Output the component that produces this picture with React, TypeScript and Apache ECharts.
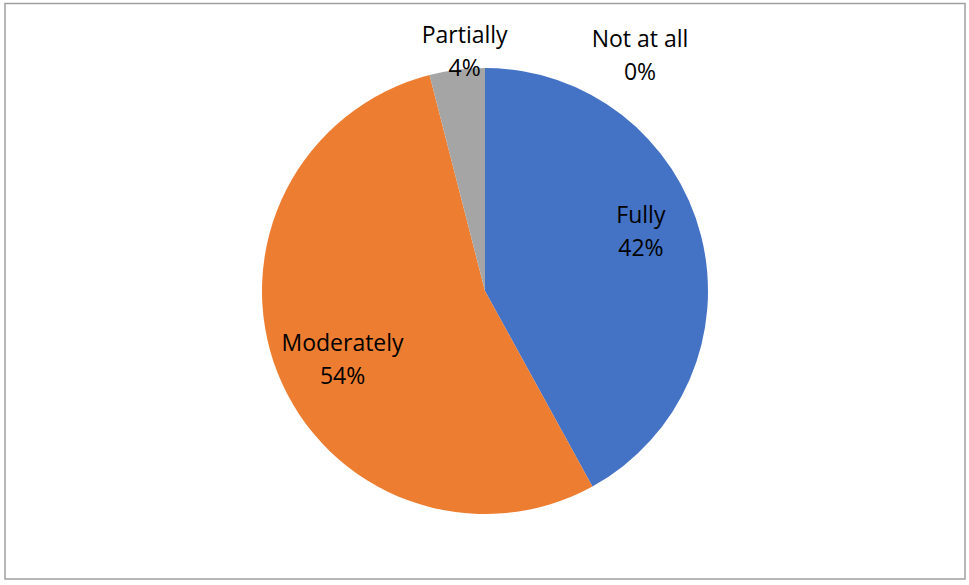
import React, { useEffect, useRef } from "react";
import * as echarts from "echarts";

const categories = ["Fully", "Moderately", "Partially", "Not at all"];
const values = [42, 54, 4, 0];
const colors = ["#4472C4", "#ED7D31", "#A5A5A5", "#FFC000"];

// label nudges relative to ECharts' inside-label anchor
const labelNudge: Record<number, [number, number]> = {
  0: [45, -32],
  1: [-36, 25],
  2: [-6, -127],
  3: [155, -122],
};

export default function App() {
  const ref = useRef<HTMLDivElement>(null);
  useEffect(() => {
    if (!ref.current) return;
    const chart = echarts.init(ref.current, undefined, { renderer: "svg" });
    const option: any = {
      animation: false,
      backgroundColor: "#ffffff",
      graphic: [
        {
          type: "rect",
          shape: { x: 5, y: 3.5, width: 960, height: 575.5 },
          style: { fill: "none", stroke: "#A0A0A0", lineWidth: 1.5 },
          silent: true,
        },
      ],
      series: [
        {
          type: "pie",
          center: [485, 291],
          radius: [0, 223],
          startAngle: 90,
          clockwise: true,
          minShowLabelAngle: 0,
          avoidLabelOverlap: false,
          label: {
            show: true,
            position: "inside",
            formatter: (p: any) => `${p.name}\n${Math.round(p.percent)}%`,
            fontFamily: "'Open Sans', sans-serif",
            fontSize: 23,
            lineHeight: 33,
            color: "#000000",
            align: "center",
          },
          labelLine: { show: false },
          labelLayout: (params: any) => {
            const n = labelNudge[params.dataIndex] || [0, 0];
            return { dx: n[0], dy: n[1] };
          },
          itemStyle: { borderWidth: 0 },
          emphasis: { disabled: true },
          data: categories.map((c, i) => ({
            name: c,
            value: values[i],
            itemStyle: { color: colors[i] },
          })),
        },
      ],
    };
    chart.setOption(option);
    return () => chart.dispose();
  }, []);
  return (
    <div
      ref={ref}
      style={{ position: "fixed", left: 0, top: 0, width: 969, height: 585 }}
    />
  );
}
